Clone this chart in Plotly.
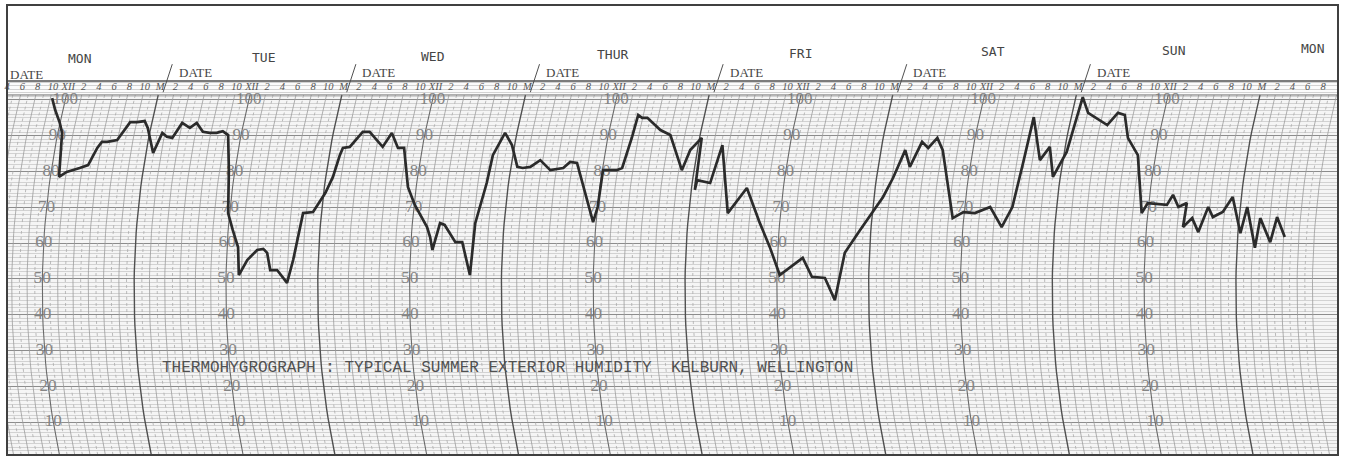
import numpy as np
import plotly.graph_objects as go

# ---------------- data ----------------
# pen trace: time (hours from Monday 00:00, as placed on the top time scale), relative humidity (%)
hours = [9.9, 10.3, 10.9, 11.2, 10.8, 11.8, 13.5, 14.6, 15.8, 16.4,
         17.1, 18.4, 20.1, 21.0, 22.0, 22.4, 23.1, 24.3, 24.9, 25.6,
         26.9, 27.9, 28.8, 29.6, 30.5, 31.4, 32.2, 32.9, 33.0, 32.9,
         33.5, 34.2, 34.3, 35.4, 36.7, 37.5, 38.0, 38.4, 39.3, 40.6,
         41.4, 42.7, 44.0, 45.6, 46.6, 47.5, 47.9, 48.8, 50.5, 51.4,
         53.1, 54.3, 55.1, 55.9, 56.4, 57.3, 58.9, 59.3, 59.6, 60.6,
         61.2, 62.6, 63.5, 64.5, 65.2, 66.7, 67.5, 69.1, 70.0, 70.7,
         71.4, 72.4, 73.7, 75.0, 76.7, 77.6, 78.5, 80.6, 81.2, 81.9,
         83.7, 84.4, 85.7, 86.5, 87.0, 87.7, 89.4, 90.7, 92.2, 93.3,
         94.8, 93.9, 94.2, 95.9, 97.5, 98.2, 100.7, 102.4, 103.7, 105.0,
         108.0, 109.2, 110.9, 112.2, 113.5, 115.5, 118.5, 119.8, 121.4, 122.0,
         123.6, 124.4, 125.6, 126.3, 127.6, 129.0, 130.5, 132.5, 134.0, 135.4,
         136.8, 138.2, 139.0, 140.3, 140.7, 142.5, 144.6, 145.3, 147.8, 149.2,
         150.1, 150.5, 151.8, 152.3, 153.1, 155.6, 156.4, 157.1, 158.2, 157.7,
         158.9, 159.7, 161.0, 161.6, 162.9, 164.2, 165.2, 166.1, 167.1, 167.8,
         169.1, 170.0, 171.0]
humidity = [100.5, 97.2, 93.6, 90.8, 78.5, 79.9, 81.0, 81.8, 86.6, 88.3,
            88.3, 88.8, 93.8, 93.8, 94.1, 92.2, 85.2, 90.8, 89.7, 89.4,
            93.6, 92.2, 93.6, 91.1, 90.8, 90.8, 91.3, 90.2, 80.4, 68.4,
            63.7, 58.9, 51.1, 55.3, 58.1, 58.4, 57.3, 52.5, 52.5, 48.9,
            55.3, 68.4, 68.7, 74.0, 78.5, 84.6, 86.6, 86.9, 91.1, 91.1,
            86.9, 90.8, 86.6, 86.6, 75.7, 70.7, 64.5, 61.7, 58.1, 65.6,
            65.1, 60.3, 60.3, 51.1, 65.6, 76.8, 84.6, 90.8, 87.4, 81.3,
            81.0, 81.3, 83.2, 80.4, 81.0, 82.7, 82.4, 65.9, 70.1, 80.4,
            80.4, 81.0, 89.7, 95.8, 95.0, 95.0, 91.6, 90.2, 80.4, 86.0,
            89.4, 74.9, 77.6, 76.8, 87.4, 68.4, 75.4, 65.6, 58.9, 51.1,
            55.9, 50.6, 50.3, 44.1, 57.3, 63.7, 72.9, 78.2, 86.0, 81.3,
            88.3, 86.6, 89.4, 86.0, 67.0, 68.7, 68.4, 70.1, 64.5, 70.1,
            82.4, 95.2, 83.2, 86.9, 78.5, 85.5, 100.8, 96.4, 93.0, 96.4,
            95.8, 89.4, 84.6, 68.4, 71.2, 70.7, 73.5, 70.1, 71.2, 64.5,
            67.0, 63.1, 70.1, 67.3, 68.7, 72.9, 62.8, 70.1, 58.7, 67.0,
            60.3, 67.3, 61.7]

day_names = ["MON", "TUE", "WED", "THUR", "FRI", "SAT", "SUN", "MON"]
day_label_hours = [13.5, 37.5, 59.7, 83.2, 107.7, 132.9, 156.4, 174.6]
midnight_hours = [24, 48, 72, 96, 120, 144, 168]
noon_hours = [12, 36, 60, 84, 108, 132, 156]
scale_values = [0, 10, 20, 30, 40, 50, 60, 70, 80, 90, 100]
scale_labels = ["0", "10", "20", "30", "40", "50", "60", "70", "80", "90", "100"]
title_text = "THERMOHYGROGRAPH : TYPICAL SUMMER EXTERIOR HUMIDITY  KELBURN, WELLINGTON"

# ---------------- chart geometry ----------------
X_RANGE = [4.0, 177.96]
Y_RANGE = [0.84, 105.3]
PX_PER_H = 7.653
PX_PER_PCT = 3.58
R_ARC, YC_ARC = 800.0, 290.0   # pen-arm arc of the time lines (pixels)


def arc_shift(v):
    """horizontal shift (hours) of a time line at humidity v relative to the top scale"""
    py = 458 - np.asarray(v) * PX_PER_PCT
    return (np.sqrt(R_ARC**2 - (88 - YC_ARC)**2) - np.sqrt(R_ARC**2 - (py - YC_ARC)**2)) / PX_PER_H


def hour_label(h):
    m = h % 24
    if m == 0:
        return "M"
    if m == 12:
        return "XII"
    return str(m % 12)


fig = go.Figure()

# curved time lines
vv = np.linspace(101.4, 0.84, 40)
styles = {
    "odd": dict(color="#ababab", width=0.8, dash="dot"),
    "even": dict(color="#9c9c9c", width=0.8),
    "noon": dict(color="#6a6a6a", width=1.1),
    "mid": dict(color="#505050", width=1.4),
}
groups = {k: ([], []) for k in styles}
for h in range(4, 179):
    if h % 24 == 0:
        k = "mid"
    elif h % 12 == 0:
        k = "noon"
    elif h % 2 == 0:
        k = "even"
    else:
        k = "odd"
    xs = h + arc_shift(vv)
    groups[k][0].extend(list(xs) + [None])
    groups[k][1].extend(list(vv) + [None])
for k, st in styles.items():
    fig.add_trace(go.Scatter(x=groups[k][0], y=groups[k][1], mode="lines",
                             line=st, hoverinfo="skip", showlegend=False))

# humidity scale labels along the noon lines
lx, ly, lt = [], [], []
for nh in noon_hours:
    for v, t in zip(scale_values, scale_labels):
        lx.append(nh + float(arc_shift(v)))
        ly.append(v)
        lt.append(t)
fig.add_trace(go.Scatter(x=lx, y=ly, text=lt, mode="text", cliponaxis=False,
                         textfont=dict(family="Liberation Serif", size=17, color="#858585"),
                         hoverinfo="skip", showlegend=False))

# hour labels on the top strip
tick_hours = [h for h in range(4, 178, 2)]
fig.add_trace(go.Scatter(x=tick_hours, y=[103.4] * len(tick_hours),
                         text=[hour_label(h) for h in tick_hours], mode="text", cliponaxis=False,
                         textfont=dict(family="Liberation Serif", size=10.5, color="#555555", style="italic"),
                         hoverinfo="skip", showlegend=False))

# the pen trace
fig.add_trace(go.Scatter(x=hours, y=humidity, mode="lines",
                         line=dict(color="#2b2b2b", width=2.7),
                         hoverinfo="skip", showlegend=False))

shapes = [
    # strip behind hour labels
    dict(type="rect", xref="paper", yref="y", x0=0, x1=1, y0=101.4, y1=Y_RANGE[1],
         fillcolor="#fbfbfb", line=dict(width=0), layer="between"),
    dict(type="line", xref="paper", yref="y", x0=0, x1=1, y0=101.4, y1=101.4,
         line=dict(color="#707070", width=1)),
    dict(type="line", xref="paper", yref="paper", x0=0, x1=1, y0=1, y1=1,
         line=dict(color="#505050", width=1.5)),
    # outer frame
    dict(type="rect", xref="paper", yref="paper", x0=0, x1=1, y0=0, y1=1.203,
         line=dict(color="#404040", width=2), fillcolor="rgba(0,0,0,0)"),
]
annotations = []
for i, (name, dh) in enumerate(zip(day_names, day_label_hours)):
    annotations.append(dict(x=dh, y=1.059 + 0.0039 * i, xref="x", yref="paper", text=name,
                            xanchor="center", yanchor="middle", showarrow=False,
                            font=dict(family="DejaVu Sans Mono", size=13, color="#454545")))
annotations.append(dict(x=0.001, y=1.017, xref="paper", yref="paper", text="DATE",
                        xanchor="left", yanchor="middle", showarrow=False,
                        font=dict(family="Liberation Serif", size=13, color="#454545")))
for mh in midnight_hours[:-1]:
    shapes.append(dict(type="line", xref="x", yref="paper", x0=mh + 0.4, x1=mh + 1.6, y0=0.97, y1=1.045,
                       line=dict(color="#505050", width=1)))
    annotations.append(dict(x=mh + 2.2, y=1.022, xref="x", yref="paper", text="DATE",
                            xanchor="left", yanchor="middle", showarrow=False,
                            font=dict(family="Liberation Serif", size=13, color="#454545")))
annotations.append(dict(x=24.0, y=25.1, xref="x", yref="y", text=title_text,
                        xanchor="left", yanchor="middle", showarrow=False,
                        font=dict(family="Liberation Mono", size=16, color="#505050")))

fig.update_layout(
    width=1345, height=458,
    margin=dict(l=7, r=7, t=81, b=3),
    paper_bgcolor="white", plot_bgcolor="#f5f5f5",
    xaxis=dict(range=X_RANGE, showgrid=False, zeroline=False, showticklabels=False, showline=False),
    yaxis=dict(range=Y_RANGE, tick0=0, dtick=10, showgrid=True, gridcolor="#8c8c8c", gridwidth=1.2,
               zeroline=False, showticklabels=False, showline=False,
               minor=dict(dtick=1, showgrid=True, gridcolor="#d2d2d2", gridwidth=0.6)),
    shapes=shapes, annotations=annotations,
)

fig.write_html("out.html")
